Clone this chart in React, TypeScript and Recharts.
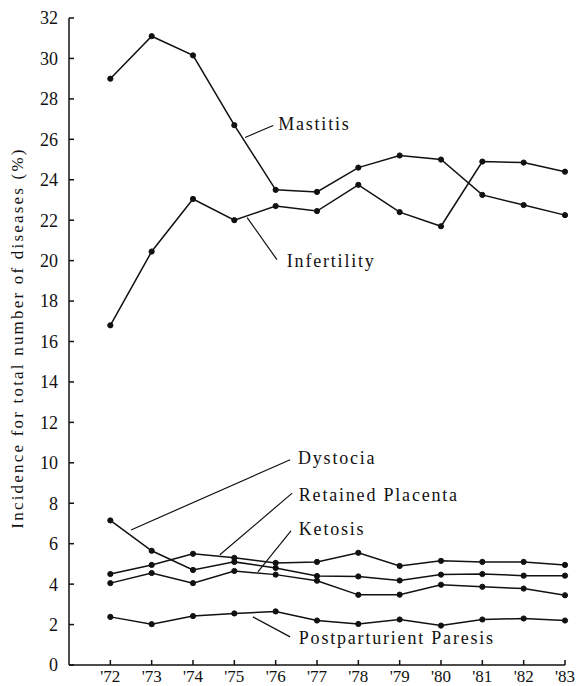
import { Label, Line, LineChart, ReferenceDot, ReferenceLine, XAxis, YAxis } from "recharts";

const YEARS = [72, 73, 74, 75, 76, 77, 78, 79, 80, 81, 82, 83];
const MASTITIS = [29.0, 31.1, 30.15, 26.7, 23.5, 23.4, 24.6, 25.2, 25.0, 23.25, 22.75, 22.25];
const INFERTILITY = [16.8, 20.45, 23.05, 22.0, 22.7, 22.45, 23.75, 22.4, 21.7, 24.9, 24.85, 24.4];
const DYSTOCIA = [7.15, 5.65, 4.7, 5.1, 4.8, 4.4, 4.38, 4.18, 4.47, 4.5, 4.42, 4.42];
const RETAINED = [4.5, 4.95, 5.5, 5.3, 5.05, 5.1, 5.55, 4.9, 5.15, 5.1, 5.1, 4.95];
const KETOSIS = [4.05, 4.55, 4.05, 4.65, 4.47, 4.17, 3.47, 3.48, 3.97, 3.87, 3.78, 3.45];
const PARESIS = [2.38, 2.02, 2.42, 2.55, 2.65, 2.2, 2.03, 2.25, 1.95, 2.25, 2.3, 2.2];
const Y_TICKS = [0, 2, 4, 6, 8, 10, 12, 14, 16, 18, 20, 22, 24, 26, 28, 30, 32];

// series name, text anchor and leader line, all in data units
const NOTES = [
  { text: "Mastitis", at: [76.06, 26.78], from: [75.26, 26.09], to: [75.94, 26.68] },
  { text: "Infertility", at: [76.27, 20.0], from: [75.31, 22.13], to: [76.03, 20.05] },
  { text: "Dystocia", at: [76.54, 10.25], from: [72.5, 6.68], to: [76.35, 10.15] },
  { text: "Retained Placenta", at: [76.56, 8.42], from: [74.65, 5.45], to: [76.4, 8.5] },
  { text: "Ketosis", at: [76.56, 6.73], from: [75.57, 4.6], to: [76.37, 6.63] },
  { text: "Postparturient Paresis", at: [76.56, 1.34], from: [75.45, 2.38], to: [76.35, 1.39] },
];

const SERIES = [
  { key: "mastitis", values: MASTITIS },
  { key: "infertility", values: INFERTILITY },
  { key: "dystocia", values: DYSTOCIA },
  { key: "retained", values: RETAINED },
  { key: "ketosis", values: KETOSIS },
  { key: "paresis", values: PARESIS },
];

const rows = YEARS.map((year, i) => {
  const row: Record<string, number> = { year };
  SERIES.forEach((s) => (row[s.key] = s.values[i]));
  return row;
});

const INK = "#111";
const FONT = "Liberation Serif, DejaVu Serif, serif";

export default function App() {
  return (
    <div>
      <style>{"body{margin:0} svg text{font-family:'Liberation Serif','DejaVu Serif',serif}"}</style>
      <LineChart
        width={579}
        height={686}
        data={rows}
        margin={{ top: 18, right: 14, bottom: 0, left: 0 }}
      >
        <XAxis
          type="number"
          dataKey="year"
          domain={[71, 83]}
          ticks={YEARS}
          tickFormatter={(y: number) => `'${y}`}
          height={21}
          tickSize={-5}
          tickMargin={10}
          stroke={INK}
          strokeWidth={1.5}
          tick={{ fill: INK, fontSize: 17, fontFamily: FONT }}
        />
        <YAxis
          type="number"
          domain={[0, 32]}
          ticks={Y_TICKS}
          width={69}
          tickSize={-5}
          tickMargin={16}
          stroke={INK}
          strokeWidth={1.5}
          tick={{ fill: INK, fontSize: 18, fontFamily: FONT }}
        >
          <Label
            content={() => (
              <text
                x={17}
                y={338}
                transform="rotate(-90 17 338)"
                textAnchor="middle"
                dominantBaseline="central"
                fontSize={17}
                fontFamily={FONT}
                letterSpacing={2.2}
                fill={INK}
              >
                Incidence for total number of diseases (%)
              </text>
            )}
          />
        </YAxis>
        {NOTES.map((n) => (
          <ReferenceLine
            key={n.text + "-line"}
            segment={[
              { x: n.from[0], y: n.from[1] },
              { x: n.to[0], y: n.to[1] },
            ]}
            stroke={INK}
            strokeWidth={1.2}
          />
        ))}
        {NOTES.map((n) => (
          <ReferenceDot
            key={n.text}
            x={n.at[0]}
            y={n.at[1]}
            r={0}
            shape={(p: any) => (
              <text
                x={p.cx}
                y={p.cy}
                dominantBaseline="central"
                fontSize={18}
                fontFamily={FONT}
                letterSpacing={1.8}
                fill={INK}
              >
                {n.text}
              </text>
            )}
          />
        ))}
        {SERIES.map((s) => (
          <Line
            key={s.key}
            type="linear"
            dataKey={s.key}
            stroke={INK}
            strokeWidth={1.5}
            dot={{ r: 2.6, fill: INK, stroke: INK, strokeWidth: 1 }}
            isAnimationActive={false}
          />
        ))}
      </LineChart>
    </div>
  );
}
